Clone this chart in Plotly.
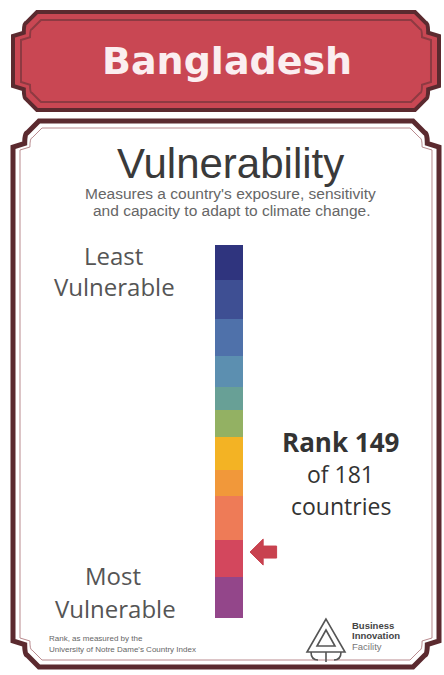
import plotly.graph_objects as go

# ---------------- data ----------------
country = "Bangladesh"
title = "Vulnerability"
subtitle_lines = ["Measures a country's exposure, sensitivity",
                  "and capacity to adapt to climate change."]
rank = 149
total_countries = 181
# colour bands of the scale, expressed in rank units (top = least vulnerable)
band_edges = [0, 17, 36, 54, 69, 80, 93, 109, 122, 143, 161, 181]
band_colors = ["#2f347e", "#3e4f93", "#4f71aa", "#5c8fb0", "#68a096",
               "#93b163", "#f3b324", "#f1983a", "#ee7b57", "#d3475d", "#93468a"]
top_label = ["Least", "Vulnerable"]
bottom_label = ["Most", "Vulnerable"]
footnote_lines = ["Rank, as measured by the",
                  "University of Notre Dame's Country Index"]
logo_lines = ["Business", "Innovation", "Facility"]

W, H = 444, 675
fig = go.Figure()

# ---- the scale bar (stacked segments) ----
for i, col in enumerate(band_colors):
    fig.add_trace(go.Bar(
        x=[0.5], y=[band_edges[i + 1] - band_edges[i]], base=[band_edges[i]],
        width=1.0, marker=dict(color=col, line=dict(width=0)),
        showlegend=False, hoverinfo="skip"))

bar_top_px, bar_bot_px = 245, 618
bar_left_px, x_right_px = 215, 285
fig.update_layout(
    width=W, height=H, margin=dict(l=0, r=0, t=0, b=0),
    paper_bgcolor="#ffffff", plot_bgcolor="rgba(0,0,0,0)",
    barmode="overlay", bargap=0,
    xaxis=dict(domain=[bar_left_px / W, x_right_px / W], range=[0, 2.5],
               visible=False, fixedrange=True),
    yaxis=dict(domain=[1 - bar_bot_px / H, 1 - bar_top_px / H],
               range=[total_countries, 0], visible=False, fixedrange=True),
)

def P(x, y):
    return f"{x / W:.5f},{1 - y / H:.5f}"

def ticket(x0, y0, x1, y1, r):
    # notched corners: a small step then a concave curve
    s = r * 0.45
    return (f"M {P(x0+r, y0)} L {P(x1-r, y0)} L {P(x1-r+s, y0+s)} Q {P(x1-s, y0+s)} {P(x1-s, y0+r-s*0.3)} "
            f"L {P(x1, y0+r)} L {P(x1, y1-r)} L {P(x1-s, y1-r+s*0.3)} Q {P(x1-s, y1-s)} {P(x1-r+s, y1-s)} "
            f"L {P(x1-r, y1)} L {P(x0+r, y1)} L {P(x0+r-s, y1-s)} Q {P(x0+s, y1-s)} {P(x0+s, y1-r+s*0.3)} "
            f"L {P(x0, y1-r)} L {P(x0, y0+r)} L {P(x0+s, y0+r-s*0.3)} Q {P(x0+s, y0+s)} {P(x0+r-s, y0+s)} Z")

shapes = []
dark = "#5b2a2f"
# banner
shapes.append(dict(type="path", path=ticket(13, 12, 439, 110, 24), xref="paper", yref="paper",
                   fillcolor="#c94753", line=dict(color=dark, width=4), layer="below"))
shapes.append(dict(type="path", path=ticket(21, 20, 431, 102, 20), xref="paper", yref="paper",
                   fillcolor="rgba(0,0,0,0)", line=dict(color="#8e3a42", width=2), layer="below"))
# main panel
shapes.append(dict(type="path", path=ticket(13, 121, 439, 667, 26), xref="paper", yref="paper",
                   fillcolor="#ffffff", line=dict(color=dark, width=5), layer="below"))
shapes.append(dict(type="path", path=ticket(20, 128, 432, 660, 22), xref="paper", yref="paper",
                   fillcolor="rgba(0,0,0,0)", line=dict(color="#b98a8e", width=1), layer="below"))

# arrow pointing at the rank (data coordinates)
px_per_rank = (bar_bot_px - bar_top_px) / total_countries
head_h = 13 / px_per_rank
body_h = 6 / px_per_rank
tip_x, neck_x, tail_x = 1.25, 1.72, 2.2
arrow_path = (f"M {tip_x},{rank} L {neck_x},{rank-head_h} L {neck_x},{rank-body_h} "
              f"L {tail_x},{rank-body_h} L {tail_x},{rank+body_h} L {neck_x},{rank+body_h} "
              f"L {neck_x},{rank+head_h} Z")
shapes.append(dict(type="path", path=arrow_path, xref="x", yref="y",
                   fillcolor="#c8424f", line=dict(color="#c8424f", width=1)))

# logo icon (decorative)
logo = (f"M {P(326,619)} L {P(307,652)} L {P(345,652)} Z "
        f"M {P(326,630)} L {P(317,646)} L {P(335,646)} Z "
        f"M {P(326,652)} L {P(326,662)} "
        f"M {P(311,652)} Q {P(311,660)} {P(318,660)} "
        f"M {P(341,652)} Q {P(341,660)} {P(334,660)}")
shapes.append(dict(type="path", path=logo, xref="paper", yref="paper",
                   line=dict(color="#555555", width=1.6)))
fig.update_layout(shapes=shapes)

ann = []
def txt(x, y, s, size, color="#333333", family="Liberation Sans", xanchor="center"):
    ann.append(dict(x=x / W, y=1 - y / H, xref="paper", yref="paper", text=s, showarrow=False,
                    xanchor=xanchor, yanchor="middle",
                    font=dict(size=size, color=color, family=family)))

txt(227, 61, f"<b>{country}</b>", 38, "#fbeef0", "DejaVu Sans")
txt(230, 164, title, 42, "#3a3a3a")
txt(230, 194, subtitle_lines[0], 15.5, "#666666")
txt(231, 211, subtitle_lines[1], 15.5, "#666666")
txt(113, 256, top_label[0], 24, "#555555", "Open Sans")
txt(114, 287, top_label[1], 24, "#555555", "Open Sans")
txt(113, 575, bottom_label[0], 24, "#555555", "Open Sans")
txt(115, 608, bottom_label[1], 24, "#555555", "Open Sans")
txt(340, 442, f"<b>Rank {rank}</b>", 26, "#333333", "Open Sans")
txt(340, 474, f"of {total_countries}", 23, "#333333", "Open Sans")
txt(341, 506, "countries", 23, "#333333", "Open Sans")
txt(47, 638, footnote_lines[0], 8, "#666666", xanchor="left")
txt(47, 649, footnote_lines[1], 8, "#666666", xanchor="left")
txt(350, 625, f"<b>{logo_lines[0]}</b>", 9.5, "#444444", xanchor="left")
txt(350, 635, f"<b>{logo_lines[1]}</b>", 9.5, "#444444", xanchor="left")
txt(350, 646, logo_lines[2], 9.5, "#777777", xanchor="left")
fig.update_layout(annotations=ann)

fig.write_html("out.html", config={"displayModeBar": False},
               post_script="document.body.style.margin='0';document.body.style.overflow='hidden';")
